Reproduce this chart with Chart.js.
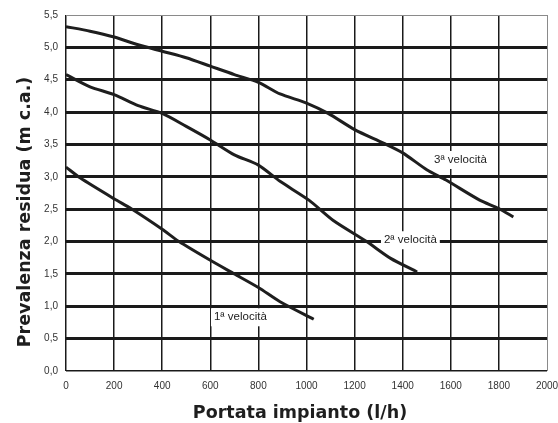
<!DOCTYPE html>
<html>
<head>
<meta charset="utf-8">
<script src="https://cdn.jsdelivr.net/npm/chart.js@4.4.0/dist/chart.umd.min.js"></script>
<style>
  html, body { margin: 0; padding: 0; background: #fff; }
  #wrap { width: 558px; height: 423px; }
</style>
</head>
<body>
<div id="wrap"><canvas id="myChart" width="558" height="423"></canvas></div>
<script>
// Curves: flow (l/h) and residual head (m c.a.)
const flow1 = [0, 60, 200, 270, 400, 470, 600, 700, 800, 890, 1030]
const head1 = [3.15, 2.98, 2.66, 2.51, 2.19, 2.0, 1.71, 1.5, 1.29, 1.07, 0.8]

const flow2 = [0, 100, 200, 300, 400, 500, 600, 700, 800, 890, 1010, 1110, 1250, 1350, 1460]
const head2 = [4.58, 4.39, 4.27, 4.1, 3.98, 3.78, 3.57, 3.34, 3.18, 2.93, 2.64, 2.33, 2.0, 1.74, 1.53]

const flow3 = [0, 100, 200, 300, 400, 500, 600, 700, 800, 890, 1000, 1090, 1200, 1320, 1400, 1500, 1580, 1720, 1800, 1860]
const head3 = [5.32, 5.25, 5.16, 5.04, 4.94, 4.84, 4.71, 4.58, 4.46, 4.28, 4.14, 3.98, 3.73, 3.52, 3.37, 3.11, 2.95, 2.64, 2.51, 2.38]

// Curve labels (data coordinates)
const labelText = ["1ª velocità", "2ª velocità", "3ª velocità"]
const labelX = [725, 1432, 1640]
const labelY = [0.83, 2.02, 3.26]

const xTitle = "Portata impianto (l/h)"
const yTitle = "Prevalenza residua (m c.a.)"

const titleFont = "bold 17.5px 'DejaVu Sans', sans-serif"
const labelFont = "11.5px 'Liberation Sans', Arial, sans-serif"

const toPoints = (xs, ys) => xs.map((x, i) => ({ x: x, y: ys[i] }))

const curve = (xs, ys) => ({
    data: toPoints(xs, ys),
    borderColor: "#1e1e1e",
    borderWidth: 3,
    pointRadius: 0,
    tension: 0.25,
    fill: false
})

// White boxes under the curve labels (grid hidden, curves stay on top)
// then the label text and both axis titles
const curveLabels = {
    id: "curveLabels",
    beforeDatasetsDraw(chart) {
        const { ctx, scales } = chart
        ctx.save()
        ctx.font = labelFont
        labelText.forEach((t, i) => {
            const px = scales.x.getPixelForValue(labelX[i])
            const py = scales.y.getPixelForValue(labelY[i])
            const w = ctx.measureText(t).width + 6
            ctx.fillStyle = "#fff"
            ctx.fillRect(px - w / 2, py - 9, w, 18)
        })
        ctx.restore()
    },
    afterDatasetsDraw(chart) {
        const { ctx, scales } = chart
        ctx.save()
        ctx.font = labelFont
        ctx.textAlign = "center"
        ctx.textBaseline = "middle"
        ctx.fillStyle = "#222"
        labelText.forEach((t, i) => {
            ctx.fillText(t, scales.x.getPixelForValue(labelX[i]), scales.y.getPixelForValue(labelY[i]))
        })

        // titles, placed like the original (not centred on the plot)
        ctx.font = titleFont
        ctx.fillStyle = "#1e1e1e"
        ctx.fillText(xTitle, 300, 413)

        ctx.translate(25, 212)
        ctx.rotate(-Math.PI / 2)
        ctx.fillText(yTitle, 0, 0)
        ctx.restore()
    }
}

const ctx = document.getElementById("myChart")

new Chart(ctx, {
    type: "line",
    data: {
        datasets: [curve(flow1, head1), curve(flow2, head2), curve(flow3, head3)]
    },
    options: {
        responsive: false,
        animation: { duration: 0 },
        layout: { padding: { top: 15, right: 11, left: 0, bottom: 0 } },
        plugins: { legend: { display: false }, tooltip: { enabled: false } },
        scales: {
            x: {
                type: "linear",
                min: 0,
                max: 2000,
                afterFit: s => {
                    s.height = 52
                    s.paddingLeft = 0
                    s.paddingRight = 0
                },
                border: { display: false },
                grid: {
                    drawTicks: false,
                    color: c => c.index === 10 ? "#8a8a8a" : "#1a1a1a",
                    lineWidth: c => c.index === 10 ? 1 : 1.5
                },
                ticks: {
                    stepSize: 200,
                    padding: 9,
                    color: "#333",
                    font: { family: "'Liberation Sans', Arial, sans-serif", size: 10 },
                    maxRotation: 0,
                    callback: v => String(v)
                },
                title: { display: false }
            },
            y: {
                min: 0,
                max: 5.5,
                afterFit: s => {
                    s.width = 66
                    s.paddingTop = 0
                    s.paddingBottom = 0
                },
                border: { display: false },
                grid: {
                    drawTicks: false,
                    color: c => c.index === 11 ? "#8a8a8a" : "#1a1a1a",
                    lineWidth: c => c.index === 11 ? 1 : (c.index === 0 ? 1.5 : 3)
                },
                ticks: {
                    stepSize: 0.5,
                    padding: 8,
                    color: "#333",
                    font: { family: "'Liberation Sans', Arial, sans-serif", size: 10 },
                    callback: v => v.toFixed(1).replace(".", ",")
                },
                title: { display: false }
            }
        }
    },
    plugins: [curveLabels]
})
</script>
</body>
</html>
